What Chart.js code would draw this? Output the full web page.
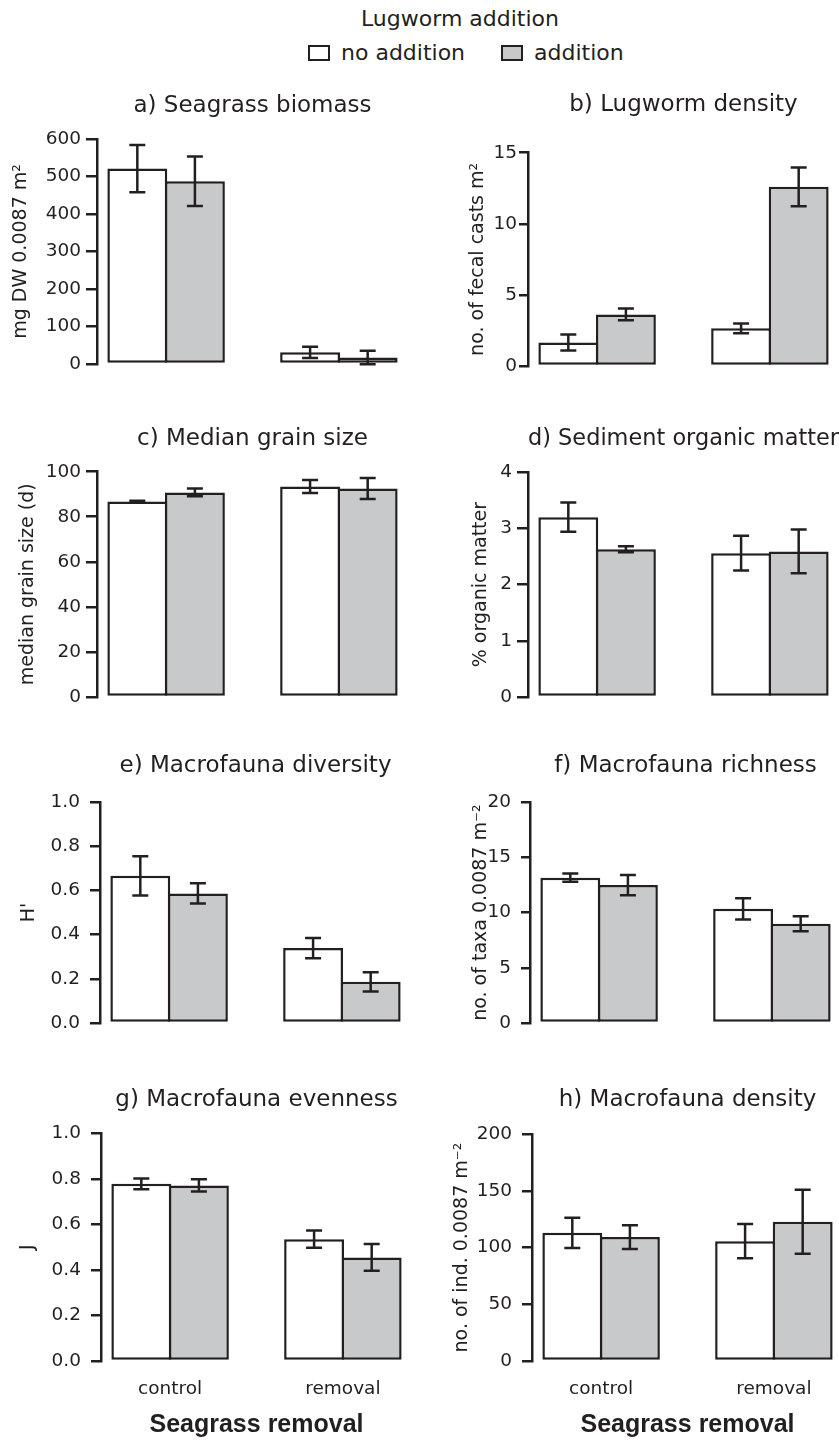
<!DOCTYPE html>
<html><head><meta charset="utf-8">
<script src="https://cdn.jsdelivr.net/npm/chart.js@4.4.0/dist/chart.umd.min.js"></script>
<style>
html,body{margin:0;padding:0;background:#fff;width:839px;height:1442px;overflow:hidden;position:relative;}
canvas{position:absolute;}
.lg{position:absolute;font-family:'DejaVu Sans';font-size:22px;line-height:26px;color:#231f20;white-space:nowrap;}
.box{display:inline-block;width:18px;height:12px;border:2.5px solid #231f20;margin-right:11px;}
</style></head><body>
<div id="legendTitle" class="lg" style="left:0;width:920px;text-align:center;top:6px;"></div>
<div id="legendItems" class="lg" style="left:308px;top:40px;display:flex;align-items:center;"></div>
<script>
// ---- data ----
const legendTitle = 'Lugworm addition';
const seriesNames = ['no addition', 'addition'];
const seriesColors = ['#ffffff', '#c8c9cb'];
const categories = ['control', 'removal'];
const xAxisTitle = 'Seagrass removal';
const panelTitles = ['a) Seagrass biomass', 'b) Lugworm density', 'c) Median grain size', 'd) Sediment organic matter',
  'e) Macrofauna diversity', 'f) Macrofauna richness', 'g) Macrofauna evenness', 'h) Macrofauna density'];
const yTitles = ['mg DW 0.0087 m\u00B2', 'no. of fecal casts m\u00B2', 'median grain size (d)', '% organic matter',
  "H'", 'no. of taxa 0.0087 m\u207B\u00B2', 'J', 'no. of ind. 0.0087 m\u207B\u00B2'];

const biomassNo = [521, 31], biomassNoSE = [63, 15], biomassAdd = [487, 17], biomassAddSE = [66, 18];
const biomassTicks = ['0', '100', '200', '300', '400', '500', '600'];
const lugwormNo = [1.65, 2.65], lugwormNoSE = [0.56, 0.34], lugwormAdd = [3.63, 12.6], lugwormAddSE = [0.41, 1.36];
const lugwormTicks = ['0', '5', '10', '15'];
const grainNo = [86.8, 93.4], grainNoSE = [0.3, 2.9], grainAdd = [90.8, 92.5], grainAddSE = [1.75, 4.65];
const grainTicks = ['0', '20', '40', '60', '80', '100'];
const organicNo = [3.2, 2.56], organicNoSE = [0.26, 0.31], organicAdd = [2.63, 2.59], organicAddSE = [0.055, 0.39];
const organicTicks = ['0', '1', '2', '3', '4'];
const diversityNo = [0.667, 0.339], diversityNoSE = [0.089, 0.046], diversityAdd = [0.587, 0.186], diversityAddSE = [0.046, 0.044];
const diversityTicks = ['0.0', '0.2', '0.4', '0.6', '0.8', '1.0'];
const richnessNo = [13.17, 10.34], richnessNoSE = [0.38, 0.97], richnessAdd = [12.5, 8.99], richnessAddSE = [0.92, 0.69];
const richnessTicks = ['0', '5', '10', '15', '20'];
const evennessNo = [0.778, 0.535], evennessNoSE = [0.024, 0.038], evennessAdd = [0.771, 0.455], evennessAddSE = [0.027, 0.059];
const evennessTicks = ['0.0', '0.2', '0.4', '0.6', '0.8', '1.0'];
const densityNo = [112.9, 105.6], densityNoSE = [13.4, 15], densityAdd = [109.2, 122.6], densityAddSE = [10.5, 28.2];
const densityTicks = ['0', '50', '100', '150', '200'];

// ---- layout (positions / sizes only) ----
const INK = '#231f20';
const LW = 2.5;
const panels = [
  {no: biomassNo, noSE: biomassNoSE, add: biomassAdd, addSE: biomassAddSE, ticks: biomassTicks, left: 10, top: 92, w: 398, wy: 87, tp: 19.4, chartH: 227, hx: 14, tl: 11, pad: 5, xlab: false},
  {no: lugwormNo, noSE: lugwormNoSE, add: lugwormAdd, addSE: lugwormAddSE, ticks: lugwormTicks, left: 467, top: 91, w: 372, wy: 61, tp: 34.1, chartH: 213.3, hx: 14, tl: 9, pad: 2, xlab: false},
  {no: grainNo, noSE: grainNoSE, add: grainAdd, addSE: grainAddSE, ticks: grainTicks, left: 17, top: 425, w: 391, wy: 80, tp: 19.1, chartH: 227.6, hx: 14, tl: 11, pad: 5, xlab: false},
  {no: organicNo, noSE: organicNoSE, add: organicAdd, addSE: organicAddSE, ticks: organicTicks, left: 470, top: 425, w: 369, wy: 58, tp: 19.7, chartH: 226.7, hx: 14, tl: 11, pad: 5, xlab: false},
  {no: diversityNo, noSE: diversityNoSE, add: diversityAdd, addSE: diversityAddSE, ticks: diversityTicks, left: 18, top: 752, w: 393, wy: 82, tp: 22.7, chartH: 227.7, hx: 14, tl: 10, pad: 10, xlab: false},
  {no: richnessNo, noSE: richnessNoSE, add: richnessAdd, addSE: richnessAddSE, ticks: richnessTicks, left: 470, top: 752, w: 371, wy: 60, tp: 22.7, chartH: 227.7, hx: 14, tl: 9, pad: 10, xlab: false},
  {no: evennessNo, noSE: evennessNoSE, add: evennessAdd, addSE: evennessAddSE, ticks: evennessTicks, left: 17, top: 1086, w: 395, wy: 84, tp: 19.7, chartH: 227.7, hx: 79, tl: 10, pad: 10, xlab: true},
  {no: densityNo, noSE: densityNoSE, add: densityAdd, addSE: densityAddSE, ticks: densityTicks, left: 451, top: 1086, w: 392, wy: 81, tp: 20.4, chartH: 227, hx: 79, tl: 10, pad: 10, xlab: true}
];

// ---- legend ----
document.getElementById('legendTitle').textContent = legendTitle;
const li = document.getElementById('legendItems');
seriesNames.forEach((n, i) => {
  const b = document.createElement('span'); b.className = 'box'; b.style.background = seriesColors[i];
  const t = document.createElement('span'); t.textContent = n; t.style.marginRight = i === 0 ? '36px' : '0';
  li.appendChild(b); li.appendChild(t);
});

// ---- error bars plugin ----
const errorBars = {
  id: 'errorBars',
  afterDatasetsDraw(chart) {
    const ctx = chart.ctx, y = chart.scales.y;
    chart.data.datasets.forEach((ds, di) => {
      const meta = chart.getDatasetMeta(di);
      meta.data.forEach((bar, i) => {
        const v = ds.data[i].y, e = ds.se[i];
        const yHi = y.getPixelForValue(v + e), yLo = y.getPixelForValue(v - e);
        ctx.save();
        ctx.strokeStyle = INK; ctx.lineWidth = LW; ctx.lineCap = 'butt';
        ctx.beginPath();
        ctx.moveTo(bar.x, yHi); ctx.lineTo(bar.x, yLo);
        ctx.moveTo(bar.x - 8, yHi); ctx.lineTo(bar.x + 8, yHi);
        ctx.moveTo(bar.x - 8, yLo); ctx.lineTo(bar.x + 8, yLo);
        ctx.stroke();
        ctx.restore();
      });
    });
  }
};

Chart.defaults.font.family = "'DejaVu Sans'";
Chart.defaults.color = INK;

panels.forEach((p, k) => {
  const c = document.createElement('canvas');
  const h = p.tp + 27.6 + p.chartH + p.hx;
  c.width = p.w; c.height = Math.round(h);
  c.style.left = p.left + 'px'; c.style.top = p.top + 'px';
  document.body.appendChild(c);
  const series = [[p.no, p.noSE], [p.add, p.addSE]];
  new Chart(c, {
    type: 'bar',
    data: {
      datasets: series.map((s, si) => ({
        label: seriesNames[si],
        data: s[0].map((v, i) => ({x: i + 1, y: v})),
        se: s[1],
        backgroundColor: seriesColors[si],
        borderColor: INK,
        borderWidth: LW,
        borderSkipped: false
      }))
    },
    options: {
      responsive: false,
      animation: false,
      events: [],
      layout: {padding: 0},
      categoryPercentage: 0.6667,
      barPercentage: 1.04,
      plugins: {
        legend: {display: false},
        tooltip: {enabled: false},
        title: {display: true, text: panelTitles[k], fullSize: false, color: INK,
          font: {size: 23, weight: 'normal'}, padding: {top: 0, bottom: p.tp}}
      },
      scales: {
        x: {
          type: 'linear', min: 0.6, max: 2.4, offset: false,
          grid: {display: false, drawTicks: false},
          border: {display: false},
          ticks: {display: p.xlab, stepSize: 1, includeBounds: false, padding: 17,
            font: {size: 18.5}, color: INK, maxRotation: 0, autoSkip: false,
            callback: (v) => (Number.isInteger(v) && categories[v - 1]) ? categories[v - 1] : ''},
          title: {display: p.xlab, text: xAxisTitle, color: INK, padding: {top: 0, bottom: 0},
            font: {family: "'Liberation Sans'", size: 25, weight: 'bold'}},
          afterFit: (s) => { s.height = p.hx; }
        },
        y: {
          min: 0, max: parseFloat(p.ticks[p.ticks.length - 1]),
          afterBuildTicks: (s) => { s.ticks = p.ticks.map(t => ({value: parseFloat(t)})); },
          ticks: {font: {size: 18.5}, color: INK, padding: p.pad, autoSkip: false,
            callback: (v, i) => p.ticks[i]},
          grid: {display: true, drawOnChartArea: false, drawTicks: true, tickLength: p.tl, color: INK, lineWidth: LW},
          border: {display: true, color: INK, width: LW},
          title: {display: true, text: yTitles[k], color: INK, font: {size: 19}, padding: {top: 0, bottom: 0}},
          afterFit: (s) => { s.width = p.wy; }
        }
      }
    },
    plugins: [errorBars]
  });
});
</script>
</body></html>
